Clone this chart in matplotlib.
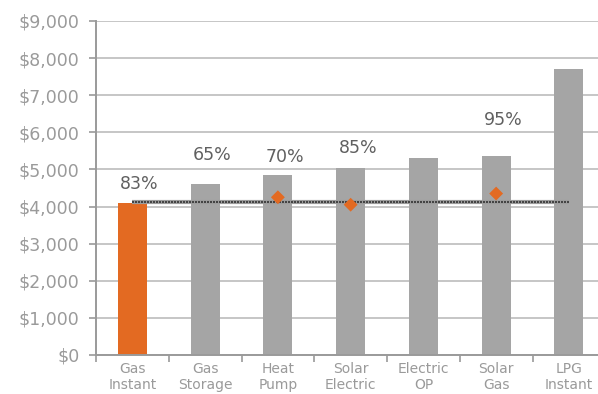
import matplotlib

matplotlib.use("Agg")
import matplotlib.pyplot as plt
from matplotlib.ticker import FuncFormatter, FixedLocator
import numpy as np

categories = ["Gas\nInstant", "Gas\nStorage", "Heat\nPump", "Solar\nElectric",
              "Electric\nOP", "Solar\nGas", "LPG\nInstant"]
costs = [4100, 4600, 4850, 5050, 5300, 5350, 7700]
bar_colors = ["#e36a22"] + ["#a5a5a5"] * 6

# orange diamond markers (index, value)
marker_idx = [2, 3, 5]
marker_vals = [4250, 4050, 4350]

# efficiency labels (index, text, y-position in data units)
label_idx = [0, 1, 2, 3, 5]
label_txt = ["83%", "65%", "70%", "85%", "95%"]
label_y = [4600, 5380, 5330, 5570, 6320]

baseline = 4130

fig = plt.figure(figsize=(5.98, 3.94), dpi=100)
ax = fig.add_axes([96 / 598, (394 - 355) / 394, 1 - 96 / 598, (355 - 21) / 394])

x = np.arange(len(categories))
ax.set_axisbelow(True)
ax.yaxis.grid(True, color="#c6c6c6", lw=1.4)
ax.bar(x, costs, width=0.4, color=bar_colors, zorder=2)

# baseline: gray band with a dark dotted line on top
ax.plot([x[0], x[-1]], [baseline, baseline], color="#9c9c9c", lw=3.0,
        solid_capstyle="butt", zorder=3)
ax.plot([x[0], x[-1]], [baseline, baseline], color="#333333", lw=1.2,
        ls=(0, (1.2, 0.6)), zorder=3)
ax.scatter(marker_idx, marker_vals, marker="D", s=50, color="#e36a22",
           edgecolor="none", zorder=4)

for i, t, y in zip(label_idx, label_txt, label_y):
    ax.text(i + 0.1, y, t, ha="center", va="center", fontsize=12.5,
            color="#606060", zorder=5)

ax.set_xlim(-0.5, 6.4)
ax.set_ylim(0, 9000)
ax.set_yticks(range(0, 9001, 1000))
ax.yaxis.set_major_formatter(FuncFormatter(lambda v, _: f"${v:,.0f}"))
ax.set_xticks(x)
ax.set_xticklabels(categories)
ax.xaxis.set_minor_locator(FixedLocator(np.arange(-0.5, 6.5, 1.0)))
ax.tick_params(axis="x", which="major", length=0, pad=5, labelsize=10,
               labelcolor="#9a9a9a")
ax.tick_params(axis="x", which="minor", length=5, color="#9a9a9a", width=1.2)
ax.tick_params(axis="y", length=5, color="#9a9a9a", width=1.2, labelsize=12.5,
               labelcolor="#9a9a9a", pad=7)
for s in ["top", "right"]:
    ax.spines[s].set_visible(False)
for s in ["left", "bottom"]:
    ax.spines[s].set_color("#9a9a9a")
    ax.spines[s].set_linewidth(1.4)

fig.savefig("out.png", dpi=100)
